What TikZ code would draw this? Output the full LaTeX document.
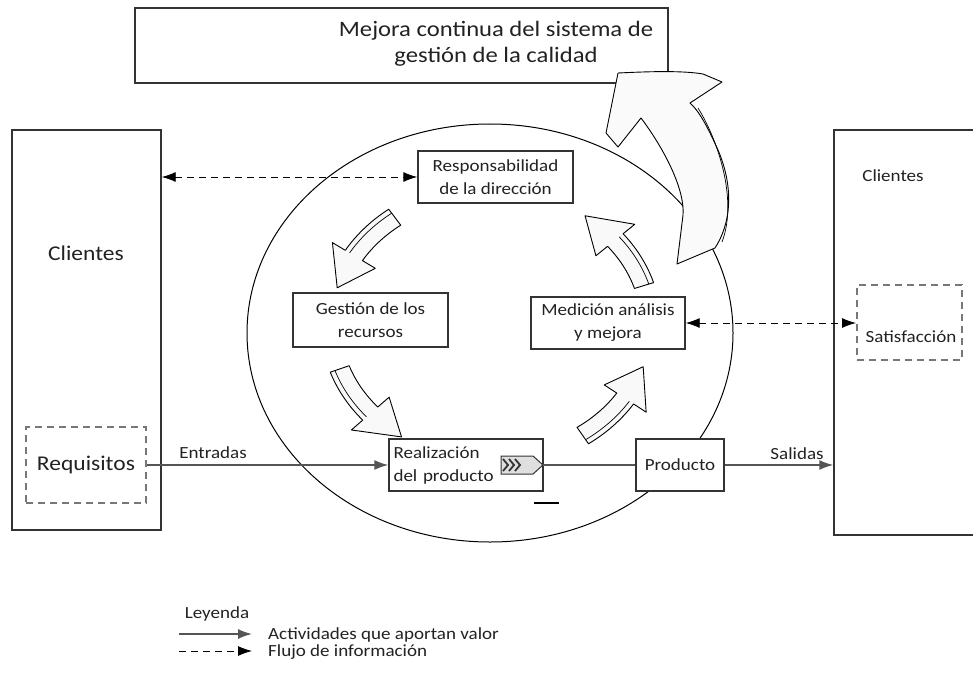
\documentclass[tikz,border=0pt]{standalone}
\usepackage{fontspec}
\setmainfont{Carlito}[FakeStretch=1.12]
\usetikzlibrary{arrows.meta,calc}
\definecolor{ln}{HTML}{333333}
\definecolor{flow}{HTML}{555555}
\definecolor{txt}{HTML}{222222}
\definecolor{dsh}{HTML}{777777}
\newcommand\cyclearrow[3]{%
  \draw[blockarr] plot[domain=#1:#2, samples=16, variable=\t] ({491+170*cos(\t)},{325+145*sin(\t)})
    -- ({491+185*cos(#2)},{325+160*sin(#2)})
    -- ({491+160*cos(#3)},{325+135*sin(#3)})
    -- ({491+135*cos(#2)},{325+110*sin(#2)})
    -- plot[domain=#2:#1, samples=16, variable=\t] ({491+150*cos(\t)},{325+125*sin(\t)})
    -- cycle;
  \draw[line width=0.7pt] plot[domain=#1:#2, samples=16, variable=\t] ({491+165*cos(\t)},{325+140*sin(\t)});}
\begin{document}
\begin{tikzpicture}[x=1pt,y=-1pt,
  bx/.style={draw=ln, line width=1.4pt, fill=white, inner sep=0pt, text=txt, align=center},
  dbx/.style={draw=dsh, dash pattern=on 7pt off 5pt, line width=2pt, inner sep=0pt},
  lbl/.style={text=txt, inner sep=0pt, align=center},
  flowline/.style={draw=flow, line width=1.6pt},
  endtip/.style={-{Latex[length=14pt,width=10pt]}},
  bothtip/.style={{Latex[length=14pt,width=10pt]}-{Latex[length=14pt,width=10pt]}},
  infoline/.style={draw=black, line width=0.9pt, dash pattern=on 7pt off 5pt},
  blockarr/.style={draw=black, line width=0.9pt, fill=gray!5, line join=round},
  big/.style={font=\fontsize{22}{26}\selectfont},
  mid/.style={font=\fontsize{21}{25}\selectfont},
  sml/.style={font=\fontsize{17}{23}\selectfont},
]
\useasboundingbox (0,0) rectangle (973,679);
\fill[white] (0,0) rectangle (973,679);
\clip (0,0) rectangle (973,679);

% top box
\node[bx, minimum width=533pt, minimum height=75pt] (mejora) at (401.5,45.5) {};
\node[lbl, big] (mejoratxt) at (496,44) {Mejora continua del sistema de\\gestión de la calidad};

% customer boxes
\node[bx, minimum width=149pt, minimum height=400pt] (lcl) at (86.5,330) {};
\node[lbl, mid] (lcltxt) at (86,253) {Clientes};
\node[dbx, minimum width=120pt, minimum height=76pt] (req) at (86,465) {};
\node[lbl, mid] (reqtxt) at (86,465) {Requisitos};

\node[bx, minimum width=160pt, minimum height=405pt] (rcl) at (914,332.5) {};
\node[lbl, sml] (rcltxt) at (893,176) {Clientes};
\node[dbx, minimum width=105pt, minimum height=75pt] (sat) at (909.5,322.5) {};
\node[lbl, sml] (sattxt) at (911,337) {Satisfacción};

% ellipse
\draw[line width=1pt] (490,333) ellipse [x radius=243, y radius=209];

% big arrow
\draw[blockarr, fill=gray!4] (677,264) -- (715,248)
  .. controls (730,225) and (735,190) .. (718,150)
  .. controls (708,128) and (700,112) .. (690,103)
  -- (722,82) -- (703,74)
  .. controls (680,70) and (640,72) .. (618,73)
  -- (606,133) -- (618,147) -- (641,118)
  .. controls (665,150) and (685,190) .. (683,215)
  -- cycle;
\draw[line width=0.7pt] (698,108) .. controls (718,140) and (738,200) .. (722,242);

% inner boxes
\node[bx, sml, minimum width=155pt, minimum height=52pt] (resp) at (495.5,177) {Responsabilidad\\de la dirección};
\node[bx, sml, minimum width=155pt, minimum height=54pt] (gest) at (370.5,320) {Gestión de los\\recursos};
\node[bx, sml, minimum width=154pt, minimum height=52pt] (med) at (608,323) {Medición análisis\\y mejora};
\node[bx, sml, minimum width=154pt, minimum height=52pt, text width=145pt, align=left] (real) at (466,465) {Realización\\del producto};
\node[bx, sml, minimum width=88pt, minimum height=52pt] (prod) at (680,465) {Producto};

% cycle arrows
\cyclearrow{233}{211}{196}
\cyclearrow{161}{139}{124}
\cyclearrow{55}{33}{18}
\cyclearrow{-17}{-39}{-54}

% chevron
\coordinate (chv) at (543,465);
\draw[draw=ln, line width=1pt, fill=gray!25] ($(chv)+(-42,-9)$) -- ($(chv)+(-10,-9)$) -- (chv) -- ($(chv)+(-10,9)$) -- ($(chv)+(-42,9)$) -- cycle;
\foreach \dx in {-40,-34,-28}
  \draw[line width=1.8pt, draw=ln] ($(chv)+(\dx,-6)$) -- ($(chv)+(\dx+5,0)$) -- ($(chv)+(\dx,6)$);
\draw[line width=1.2pt] (534,503) -- (559,503);

% flows
\draw[flowline, endtip] (req.east) -- (real.west);
\node[lbl, sml, anchor=south] (entr) at (213,459) {Entradas};
\draw[flowline] (chv) -- (prod.west);
\draw[flowline, endtip] (prod.east) -- (prod.east -| rcl.west);
\node[lbl, sml, anchor=south] (sal) at (797,460) {Salidas};

\draw[infoline, bothtip] (lcl.east |- resp.west) -- (resp.west);
\draw[infoline, bothtip] (med.east) -- (med.east -| sat.west);

% legend
\node[lbl, sml] (ley) at (217,614) {Leyenda};
\coordinate (la1) at (179,634);
\coordinate (lb1) at (252,634);
\coordinate (la2) at (179,651);
\coordinate (lb2) at (252,651);
\draw[flowline, endtip] (la1) -- (lb1);
\draw[infoline, endtip] (la2) -- (lb2);
\node[lbl, sml, anchor=west] (lt1) at (268,635) {Actividades que aportan valor};
\node[lbl, sml, anchor=west] (lt2) at (268,652) {Flujo de información};
\end{tikzpicture}
\end{document}
